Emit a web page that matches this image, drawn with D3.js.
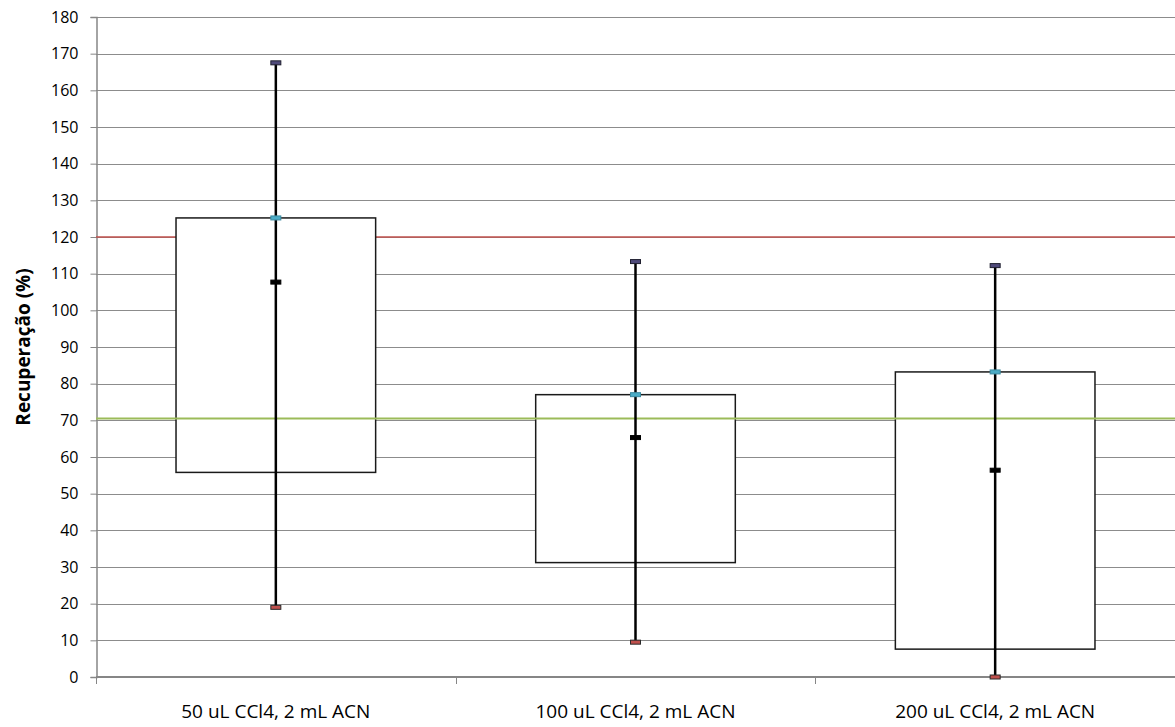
<!DOCTYPE html>
<html>
<head>
<meta charset="utf-8">
<script src="https://cdn.jsdelivr.net/npm/d3@7"></script>
<style>
  body { margin: 0; background: #fff; }
  svg text { font-family: "Open Sans", "Noto Sans", sans-serif; fill: #000; }
</style>
</head>
<body>
<div id="chart"></div>
<script>
/* DATA */
const categories = ["50 uL CCl4, 2 mL ACN", "100 uL CCl4, 2 mL ACN", "200 uL CCl4, 2 mL ACN"];
const highVals = [167.5, 113.3, 112.2];   // top of whisker
const lowVals = [19.0, 9.5, 0.0];         // bottom of whisker
const openVals = [55.8, 31.2, 7.6];       // box bottom
const closeVals = [125.2, 77.0, 83.2];    // box top
const meanVals = [107.7, 65.3, 56.4];     // black marker
const upperLimit = 120;
const lowerLimit = 70.5;
const yTicks = d3.range(0, 181, 10);

const width = 1175, height = 727;
const margin = { top: 17, right: 0, bottom: 50, left: 96 };

const rows = categories.map((c, i) => ({
  cat: c, high: highVals[i], low: lowVals[i], open: openVals[i], close: closeVals[i], mean: meanVals[i]
}));

const svg = d3.select("#chart").append("svg")
  .attr("width", width)
  .attr("height", height);

const xScale = d3.scaleBand()
  .domain(categories)
  .range([margin.left, width - margin.right])
  .padding(0);

const yScale = d3.scaleLinear()
  .domain([0, 180])
  .range([height - margin.bottom, margin.top]);

// gridlines
svg.append("g")
  .selectAll("line")
  .data(yTicks)
  .join("line")
  .attr("x1", margin.left)
  .attr("x2", width - margin.right)
  .attr("y1", d => Math.round(yScale(d)) + 0.5)
  .attr("y2", d => Math.round(yScale(d)) + 0.5)
  .attr("stroke", "#8c8c8c")
  .attr("stroke-width", 1);

// y axis
const yAxis = d3.axisLeft(yScale).tickValues(yTicks).tickSize(6).tickPadding(12);
const yAxisGroup = svg.append("g")
  .attr("transform", `translate(${margin.left + 0.5},0)`)
  .call(yAxis)
  .attr("font-family", null)
  .attr("font-size", null);
yAxisGroup.select(".domain").attr("stroke", "#868686").attr("stroke-width", 1.5);
yAxisGroup.selectAll(".tick line").attr("stroke", "#868686");
yAxisGroup.selectAll(".tick text").style("font-size", "16px");

svg.append("text")
  .attr("transform", `translate(30, ${(margin.top + height - margin.bottom) / 2}) rotate(-90)`)
  .attr("text-anchor", "middle")
  .style("font-weight", "bold")
  .style("font-size", "19px")
  .text("Recuperação (%)");

// x axis
const xAxisGroup = svg.append("g")
  .attr("transform", `translate(0, ${yScale(0)})`);
xAxisGroup.append("line")
  .attr("x1", margin.left).attr("x2", width)
  .attr("stroke", "#868686").attr("stroke-width", 2);
xAxisGroup.selectAll(".xtick")
  .data(categories)
  .join("line")
  .attr("class", "xtick")
  .attr("x1", d => Math.round(xScale(d)) + 0.5)
  .attr("x2", d => Math.round(xScale(d)) + 0.5)
  .attr("y1", 0).attr("y2", 7)
  .attr("stroke", "#868686");
xAxisGroup.selectAll(".xlabel")
  .data(categories)
  .join("text")
  .attr("class", "xlabel")
  .attr("x", d => xScale(d) + xScale.bandwidth() / 2)
  .attr("y", 41)
  .attr("text-anchor", "middle")
  .style("font-size", "19px")
  .text(d => d);

// limit lines
svg.append("line")
  .attr("x1", margin.left).attr("x2", width)
  .attr("y1", yScale(upperLimit)).attr("y2", yScale(upperLimit))
  .attr("stroke", "#c0504d").attr("stroke-width", 1.5);

const boxW = xScale.bandwidth() * 0.555;
const cx = d => xScale(d.cat) + xScale.bandwidth() / 2;

// boxes
svg.selectAll(".box")
  .data(rows)
  .join("rect")
  .attr("class", "box")
  .attr("x", d => cx(d) - boxW / 2)
  .attr("y", d => yScale(Math.max(d.open, d.close)))
  .attr("width", boxW)
  .attr("height", d => Math.abs(yScale(d.open) - yScale(d.close)))
  .attr("fill", "#fff")
  .attr("stroke", "#1a1a1a")
  .attr("stroke-width", 1.5);

svg.append("line")
  .attr("x1", margin.left).attr("x2", width)
  .attr("y1", yScale(lowerLimit)).attr("y2", yScale(lowerLimit))
  .attr("stroke", "#9bbb59").attr("stroke-width", 2);

// whiskers
svg.selectAll(".whisker")
  .data(rows)
  .join("line")
  .attr("class", "whisker")
  .attr("x1", cx).attr("x2", cx)
  .attr("y1", d => yScale(d.high))
  .attr("y2", d => yScale(d.low))
  .attr("stroke", "#000")
  .attr("stroke-width", 2.5);

// dash markers
function markers(key, fill, stroke) {
  svg.selectAll(".m-" + key)
    .data(rows)
    .join("rect")
    .attr("class", "m-" + key)
    .attr("x", d => cx(d) - 5)
    .attr("y", d => yScale(d[key]) - 2)
    .attr("width", 10)
    .attr("height", 4)
    .attr("fill", fill)
    .attr("stroke", stroke)
    .attr("stroke-width", 1);
}
markers("high", "#4f4a7a", "#1f1f2f");
markers("low", "#c0504d", "#2a2a2a");
markers("close", "#4bacc6", "#3d8aa0");
markers("mean", "#000", "#000");
</script>
</body>
</html>
